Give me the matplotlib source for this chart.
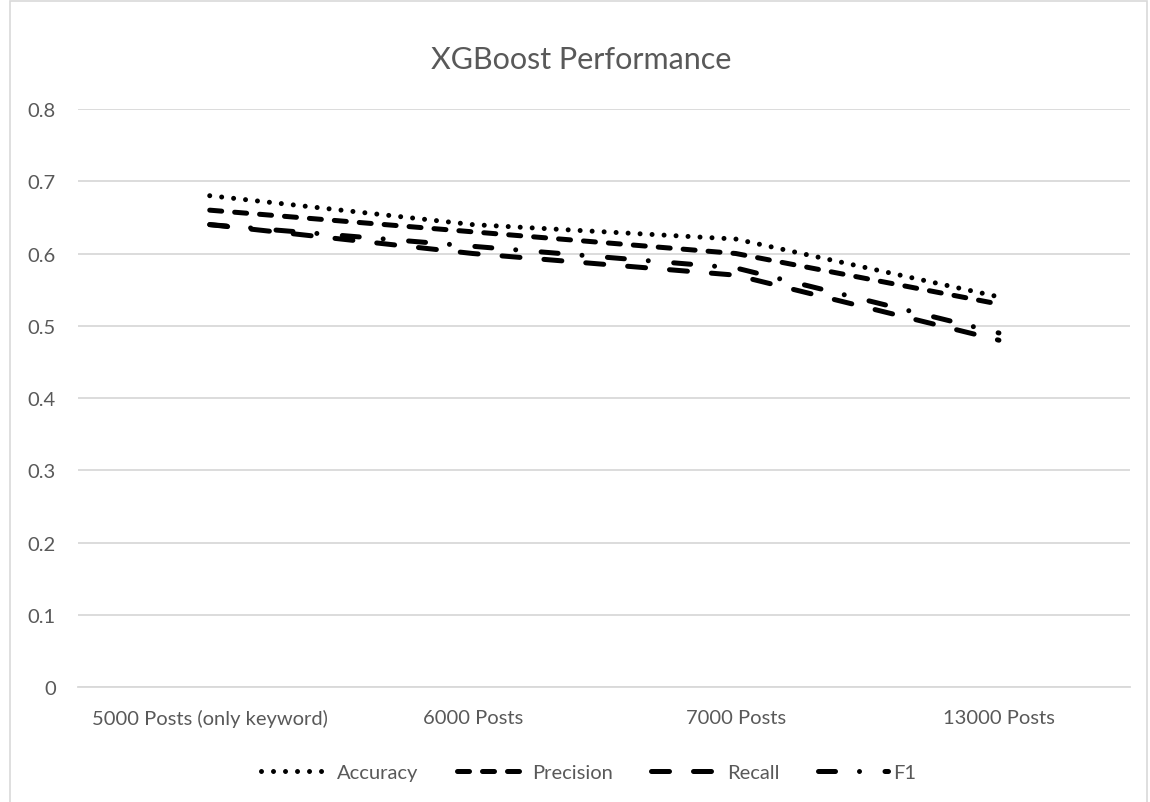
import matplotlib
matplotlib.use("Agg")
import matplotlib.pyplot as plt
from matplotlib.patches import Rectangle

# data
categories = ["5000 Posts (only keyword)", "6000 Posts", "7000 Posts", "13000 Posts"]
accuracy = [0.68, 0.64, 0.62, 0.54]
precision = [0.66, 0.63, 0.60, 0.53]
recall = [0.64, 0.60, 0.57, 0.48]
f1 = [0.64, 0.61, 0.58, 0.49]
yticks = [0, 0.1, 0.2, 0.3, 0.4, 0.5, 0.6, 0.7, 0.8]
ytick_labels = ["0", "0.1", "0.2", "0.3", "0.4", "0.5", "0.6", "0.7", "0.8"]

plt.rcParams['font.family'] = ['Lato', 'DejaVu Sans']
text_color = '#595959'
grid_color = '#d9d9d9'

fig = plt.figure(figsize=(11.5, 8.03), dpi=100)
ax = fig.add_axes([0.068, 0.1432, 0.915, 0.7198])

x = list(range(len(categories)))
lw = 3.6
series = [
    ("Accuracy", accuracy, (0, (0.001, 2.4))),
    ("Precision", precision, (0, (2.4, 2.6))),
    ("Recall", recall, (0, (3.6, 4.8))),
    ("F1", f1, (0, (3.4, 4.8, 0.001, 5.1))),
]
for name, vals, ls in series:
    ax.plot(x, vals, color='black', lw=lw, linestyle=ls,
            dash_capstyle='round', solid_capstyle='round', label=name)

ax.set_xlim(-0.5, len(categories) - 0.5)
ax.set_ylim(0, 0.8)
ax.set_yticks(yticks)
ax.set_yticklabels(ytick_labels)
ax.set_xticks(x)
ax.set_xticklabels(categories)
ax.grid(axis='y', color=grid_color, lw=1.3)
ax.set_axisbelow(True)
for s in ['top', 'right', 'left']:
    ax.spines[s].set_visible(False)
ax.spines['bottom'].set_color(grid_color)
ax.spines['bottom'].set_linewidth(1.3)
ax.tick_params(axis='both', length=0, labelsize=14.5, labelcolor=text_color)
ax.tick_params(axis='y', pad=16)
ax.tick_params(axis='x', pad=16)

fig.text(0.505, 0.925, "XGBoost Performance", ha='center', va='center',
         fontsize=22, color=text_color)

leg = fig.legend(loc='center', bbox_to_anchor=(0.512, 0.037), ncol=4, frameon=False,
                 fontsize=14.5, handlelength=3.5, handletextpad=0.25, columnspacing=1.9)
for t in leg.get_texts():
    t.set_color(text_color)

# chart area border
fig.patches.append(Rectangle((10 / 1150, -0.01), 1137 / 1150, 1 - 2 / 803 + 0.01,
                             transform=fig.transFigure, fill=False,
                             edgecolor=grid_color, lw=1.2))

fig.savefig("out.png", dpi=100)
